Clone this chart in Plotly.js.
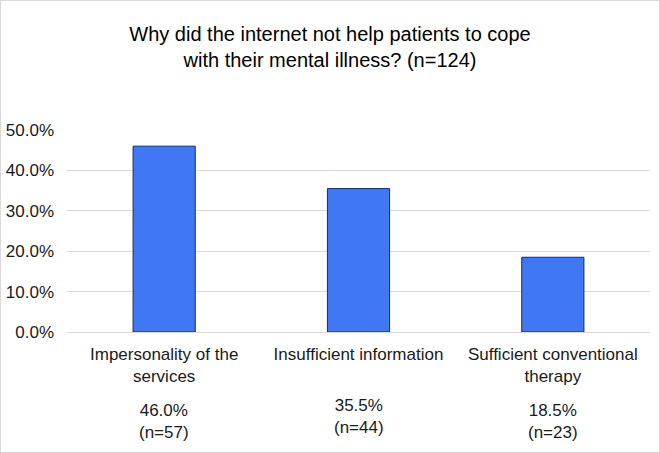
<!DOCTYPE html>
<html>
<head>
<meta charset="utf-8">
<script src="https://cdn.plot.ly/plotly-3.0.1.min.js"></script>
<style>
html,body{margin:0;padding:0;background:#fff;}
#wrap{width:660px;height:453px;box-sizing:border-box;border:1px solid #d9d9d9;overflow:hidden;}
#chart{width:658px;height:451px;}
</style>
</head>
<body>
<div id="wrap"><div id="chart"></div></div>
<script>
const categories = ["Impersonality of the<br>services", "Insufficient information", "Sufficient conventional<br>therapy"];
const percents = [46.0, 35.5, 18.5];
const counts = [57, 44, 23];
const yTickVals = [0, 0.1, 0.2, 0.3, 0.4, 0.5];

const fractions = percents.map(p => p / 100);
const annYOffsets = [-0.33, -0.305, -0.33];

const trace = {
  type: 'bar',
  x: categories,
  y: fractions,
  marker: {color: '#3f78f2', line: {color: '#1c2c4c', width: 1}},
  hoverinfo: 'none'
};

const annotations = categories.map((c, i) => ({
  x: c, xref: 'x', yref: 'paper', y: annYOffsets[i], yanchor: 'top',
  text: percents[i].toFixed(1) + '%<br>(n=' + counts[i] + ')',
  showarrow: false,
  font: {family: 'Liberation Sans, Arial, sans-serif', size: 17, color: '#1a1a1a'}
}));

const layout = {
  width: 658, height: 451,
  paper_bgcolor: '#ffffff', plot_bgcolor: '#ffffff',
  margin: {l: 66, r: 9, t: 129, b: 120},
  showlegend: false,
  bargap: 0.68,
  title: {
    text: 'Why did the internet not help patients to cope<br>with their mental illness? (n=124)',
    font: {family: 'Liberation Sans, Arial, sans-serif', size: 20, color: '#000'},
    x: 0.5, xanchor: 'center', xref: 'container',
    y: 0.912, yanchor: 'top', yref: 'container'
  },
  xaxis: {
    type: 'category',
    tickfont: {family: 'Liberation Sans, Arial, sans-serif', size: 17, color: '#1a1a1a'},
    showline: false, ticks: '', ticklabelstandoff: 10,
    showgrid: false, zeroline: false
  },
  yaxis: {
    range: [0, 0.5],
    tickvals: yTickVals,
    tickformat: '.1%',
    tickfont: {family: 'Liberation Sans, Arial, sans-serif', size: 17, color: '#1a1a1a'},
    showgrid: true, gridcolor: '#d9d9d9', gridwidth: 1,
    zeroline: true, zerolinecolor: '#d9d9d9', zerolinewidth: 1,
    showline: false, ticks: '', ticklabelstandoff: 12
  },
  annotations: annotations
};

Plotly.newPlot('chart', [trace], layout, {displayModeBar: false, staticPlot: true});
</script>
</body>
</html>
